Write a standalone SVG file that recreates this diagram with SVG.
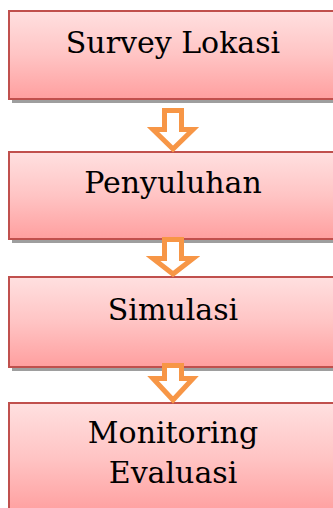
<svg xmlns="http://www.w3.org/2000/svg" width="333" height="508" viewBox="0 0 333 508">
<defs>
<linearGradient id="g" x1="0" y1="0" x2="0" y2="1">
<stop offset="0" stop-color="#FFE0E0"/>
<stop offset="0.5" stop-color="#FFC4C4"/>
<stop offset="1" stop-color="#FF9F9F"/>
</linearGradient>
<style>
.sh{fill:#9E9E9E}
.bx{fill:url(#g);stroke:#C0504D;stroke-width:2}
.t{font-family:"DejaVu Serif",serif;font-size:30px;fill:#000;text-anchor:middle}
.ar{fill:#FFFFFF;stroke:#F79646;stroke-width:5;stroke-linejoin:miter;stroke-miterlimit:10}
</style>
</defs>
<rect width="333" height="508" fill="#FFFFFF"/>
<g id="n1">
<rect class="sh" x="12" y="14" width="330" height="89"/>
<rect class="bx" x="9" y="11" width="330" height="88"/>
<text class="t" x="173" y="53">Survey Lokasi</text>
</g>
<g id="n2">
<rect class="sh" x="12" y="155" width="330" height="88"/>
<rect class="bx" x="9" y="152" width="330" height="87"/>
<text class="t" x="173" y="193">Penyuluhan</text>
</g>
<g id="n3">
<rect class="sh" x="12" y="280" width="330" height="91"/>
<rect class="bx" x="9" y="277" width="330" height="90"/>
<text class="t" x="173" y="320">Simulasi</text>
</g>
<g id="n4">
<rect class="sh" x="12" y="406" width="330" height="110"/>
<rect class="bx" x="9" y="403" width="330" height="110"/>
<text class="t" x="173" y="443">Monitoring</text>
<text class="t" x="173" y="483">Evaluasi</text>
</g>
<g id="connectors">
<path class="ar" d="M164.5,110.5 H181.5 V129.5 H193 L173,149 L153,129.5 H164.5 Z"/>
<path class="ar" d="M164.5,239.5 H181.5 V258.5 H193 L173,274 L153,258.5 H164.5 Z"/>
<path class="ar" d="M164.5,365.5 H181.5 V378.5 H193 L173,400 L153,378.5 H164.5 Z"/>
</g>
</svg>
